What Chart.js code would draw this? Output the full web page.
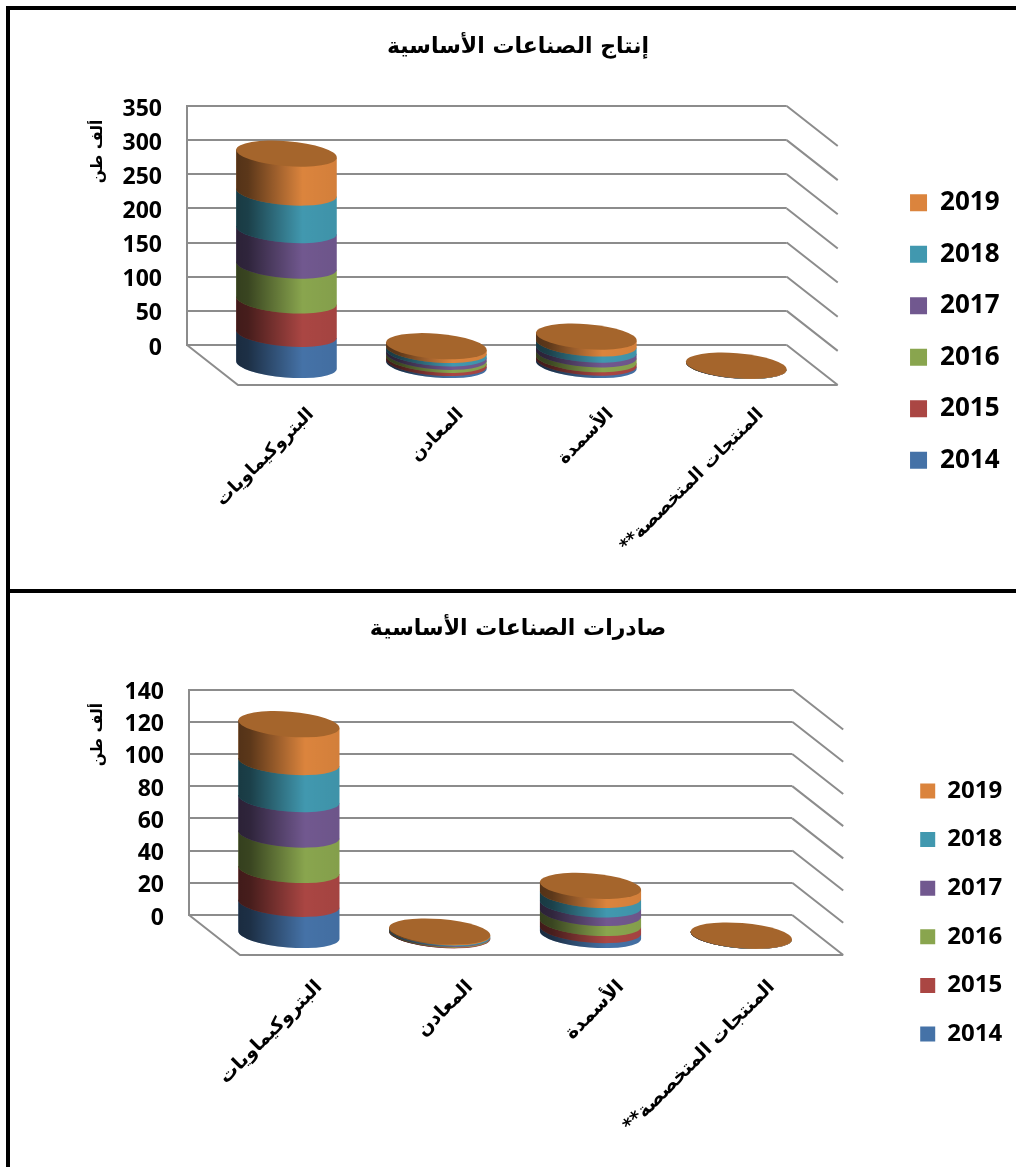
<!DOCTYPE html>
<html lang="ar">
<head>
<meta charset="utf-8">
<title>الصناعات الأساسية</title>
<script src="https://cdn.jsdelivr.net/npm/chart.js@4/dist/chart.umd.min.js"></script>
<style>
html, body { margin: 0; padding: 0; background: #fff; width: 1016px; height: 1167px; overflow: hidden; }
#frame { position: absolute; left: 6px; top: 6px; width: 1010px; height: 1161px; border-left: 4px solid #000; border-top: 4px solid #000; box-sizing: border-box; }
#divider { position: absolute; left: 6px; top: 589px; width: 1010px; height: 4px; background: #000; }
canvas { position: absolute; left: 10px; }
#c1 { top: 10px; }
#c2 { top: 593px; }
</style>
</head>
<body>
<div id="frame"></div>
<div id="divider"></div>
<canvas id="c1" width="1016" height="643" dir="rtl"></canvas>
<canvas id="c2" width="1016" height="639" dir="rtl"></canvas>
<script>
const categories = ["البتروكيماويات", "المعادن", "الأسمدة", "المنتجات المتخصصة**"];
const years = ["2014", "2015", "2016", "2017", "2018", "2019"];
const seriesColors = ["#4572A7", "#AA4643", "#89A54E", "#71588F", "#4198AF", "#DB843D"];
const topColor = "#A5652C";
const gridColor = "#8c8c8c";
const axisUnit = "ألف طن";

// production, thousand tons
const production2014 = [47, 4.5, 5, 0.1];
const production2015 = [49, 4.5, 5, 0.1];
const production2016 = [51, 4.5, 7, 0.1];
const production2017 = [52, 5, 7, 0.1];
const production2018 = [55, 5, 9, 0.1];
const production2019 = [57, 5.5, 10, 0.1];

// exports, thousand tons
const exports2014 = [20, 0.45, 3.7, 0.05];
const exports2015 = [21, 0.45, 4.4, 0.05];
const exports2016 = [22, 0.45, 6.2, 0.05];
const exports2017 = [22, 0.45, 5.3, 0.05];
const exports2018 = [23, 0.5, 5.9, 0.05];
const exports2019 = [23.5, 0.5, 5.6, 0.05];

const FONT = '"Open Sans", "DejaVu Sans", sans-serif';
const ARABIC = '"DejaVu Sans", sans-serif';

// floor depth of the fake 3d box, cylinders stand in the middle of it
const DEPTH_X = 51, DEPTH_Y = 40;
const TILT = 4.6 * Math.PI / 180;
const RY = 12.5;

function segmentPath(ctx, cx, top, bottom, rx) {
    const ex = rx * Math.cos(TILT), ey = rx * Math.sin(TILT);
    ctx.beginPath();
    ctx.ellipse(cx, bottom, rx, RY, TILT, Math.PI, 0, true);
    ctx.lineTo(cx + ex, top + ey);
    ctx.lineTo(cx - ex, top - ey);
    ctx.closePath();
}

const box3d = {
    id: "box3d",
    beforeDatasetsDraw(chart) {
        const ctx = chart.ctx, y = chart.scales.y, a = chart.chartArea;
        ctx.save();
        ctx.strokeStyle = gridColor;
        ctx.lineWidth = 2;
        ctx.beginPath();
        y.ticks.forEach(function(t) {
            const py = y.getPixelForValue(t.value);
            ctx.moveTo(a.right, py);
            ctx.lineTo(a.right + DEPTH_X, py + DEPTH_Y);
        });
        ctx.moveTo(a.left, a.bottom);
        ctx.lineTo(a.left + DEPTH_X, a.bottom + DEPTH_Y);
        ctx.lineTo(a.right + DEPTH_X, a.bottom + DEPTH_Y);
        ctx.stroke();
        ctx.restore();

        const unitY = y.getPixelForValue(y.max * chart.options.unitAt);
        ctx.save();
        ctx.translate(chart.options.unitX, unitY);
        ctx.rotate(-Math.PI / 2);
        ctx.font = "bold 15.5px " + ARABIC;
        ctx.fillStyle = "#000";
        ctx.textAlign = "center";
        ctx.textBaseline = "middle";
        ctx.fillText(axisUnit, 0, 0);
        ctx.restore();
    },
    // the bars themselves are painted below, as cylinders
    beforeDatasetDraw() {
        return false;
    },
    afterDatasetsDraw(chart) {
        const ctx = chart.ctx;
        const metas = chart.getSortedVisibleDatasetMetas();
        ctx.save();
        ctx.translate(DEPTH_X / 2 - 1, DEPTH_Y / 2 + 1);
        metas.forEach(function(meta) {
            const color = seriesColors[meta.index];
            meta.data.forEach(function(bar) {
                const rx = bar.width / 2;
                const shade = ctx.createLinearGradient(bar.x - rx, 0, bar.x + rx, 0);
                shade.addColorStop(0, "rgba(0,0,0,0.62)");
                shade.addColorStop(0.12, "rgba(0,0,0,0.58)");
                shade.addColorStop(0.66, "rgba(0,0,0,0)");
                shade.addColorStop(1, "rgba(0,0,0,0.04)");
                segmentPath(ctx, bar.x, bar.y, bar.base, rx);
                ctx.fillStyle = color;
                ctx.fill();
                ctx.fillStyle = shade;
                ctx.fill();
            });
        });
        const last = metas[metas.length - 1];
        last.data.forEach(function(bar) {
            ctx.beginPath();
            ctx.ellipse(bar.x, bar.y, bar.width / 2, RY, TILT, 0, Math.PI * 2);
            ctx.fillStyle = topColor;
            ctx.fill();
        });
        ctx.restore();
    }
};

function drawChart(id, title, series, o) {
    new Chart(document.getElementById(id), {
        type: "bar",
        data: {
            labels: categories,
            datasets: years.map(function(year, i) {
                return { label: year, data: series[i], backgroundColor: seriesColors[i], borderWidth: 0, clip: false };
            })
        },
        plugins: [box3d],
        options: {
            responsive: false,
            animation: false,
            unitAt: o.unitAt,
            unitX: o.unitX,
            barPercentage: 1,
            categoryPercentage: 0.673,
            layout: { padding: { left: o.padSide, right: o.padSide } },
            plugins: {
                tooltip: { enabled: false },
                title: {
                    display: true,
                    text: title,
                    color: "#000",
                    font: { family: ARABIC, size: o.titleSize, weight: "bold" },
                    padding: { top: o.titleTop, bottom: o.titleBottom }
                },
                legend: {
                    position: "right",
                    reverse: true,
                    labels: {
                        color: "#000",
                        boxWidth: o.swatch,
                        boxHeight: o.swatch,
                        padding: o.legendGap,
                        font: { family: FONT, size: o.legendSize, weight: "bold" }
                    }
                }
            },
            scales: {
                x: {
                    stacked: true,
                    grid: { display: false },
                    border: { display: false },
                    ticks: {
                        color: "#000",
                        autoSkip: false,
                        minRotation: 45,
                        maxRotation: 45,
                        padding: o.labelDrop,
                        labelOffset: o.labelShift,
                        font: { family: ARABIC, size: o.labelSize, weight: "bold" }
                    },
                    afterFit(s) { s.height = o.bottomBox; }
                },
                y: {
                    stacked: true,
                    min: 0,
                    max: o.yMax,
                    grid: { color: gridColor, lineWidth: 2, drawTicks: false },
                    border: { color: gridColor, width: 2 },
                    ticks: {
                        color: "#000",
                        stepSize: o.yStep,
                        padding: 25,
                        labelOffset: 3,
                        font: { family: FONT, size: 23, weight: "bold" }
                    },
                    afterFit(s) { s.width = o.leftBox; }
                },
                // keeps the legend far from the plot, the depth lines run in this gap
                gap: {
                    type: "linear",
                    position: "right",
                    grid: { display: false },
                    border: { display: false },
                    ticks: { display: false },
                    afterFit(s) { s.width = o.rightGap; }
                }
            }
        }
    });
}

drawChart("c1", "إنتاج الصناعات الأساسية",
    [production2014, production2015, production2016, production2017, production2018, production2019],
    { yMax: 350, yStep: 50, leftBox: 160.5, bottomBox: 308, rightGap: 97.8, padSide: 16.5,
      titleSize: 22, titleTop: 24.5, titleBottom: 45.1, legendSize: 26, legendGap: 25.5, swatch: 17,
      labelSize: 18, labelDrop: 51, labelShift: 49, unitAt: 0.81, unitX: 88 });

drawChart("c2", "صادرات الصناعات الأساسية",
    [exports2014, exports2015, exports2016, exports2017, exports2018, exports2019],
    { yMax: 140, yStep: 20, leftBox: 165.1, bottomBox: 317, rightGap: 103.4, padSide: 13.9,
      titleSize: 22, titleTop: 23.5, titleBottom: 46.6, legendSize: 24, legendGap: 24.6, swatch: 15,
      labelSize: 19, labelDrop: 53, labelShift: 55, unitAt: 0.80, unitX: 88 });
</script>
</body>
</html>
